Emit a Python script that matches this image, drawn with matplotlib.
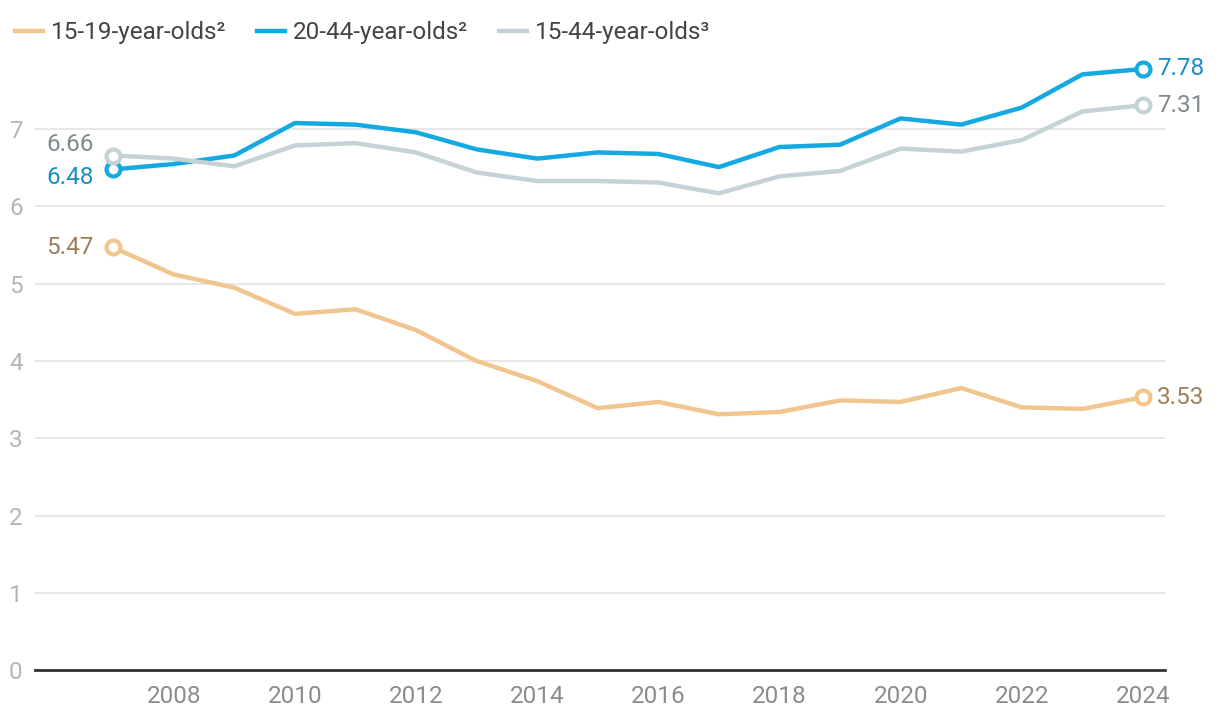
import numpy as np
import matplotlib.pyplot as plt

# data
years = list(range(2007, 2025))
teens = [5.47, 5.12, 4.95, 4.61, 4.67, 4.40, 4.00, 3.74, 3.39, 3.47, 3.31, 3.34, 3.49, 3.47, 3.65, 3.40, 3.38, 3.53]
adults = [6.48, 6.55, 6.66, 7.08, 7.06, 6.96, 6.74, 6.62, 6.70, 6.68, 6.51, 6.77, 6.80, 7.14, 7.06, 7.28, 7.71, 7.78]
total = [6.66, 6.62, 6.52, 6.79, 6.82, 6.70, 6.44, 6.33, 6.33, 6.31, 6.17, 6.39, 6.46, 6.75, 6.71, 6.86, 7.23, 7.31]

series_names = ["15-19-year-olds²", "20-44-year-olds²", "15-44-year-olds³"]
line_colors = ["#f0c68e", "#14a9e1", "#c5d3d6"]
label_colors = ["#9c7f58", "#1a8cc2", "#7f8a8e"]
# vertical nudge (points) of the start labels so 6.66 and 6.48 don't collide
start_nudge = [0, -6, 8]
x_ticks = list(range(2008, 2025, 2))
y_ticks = list(range(0, 8))

plt.rcParams['font.family'] = ['Roboto', 'DejaVu Sans']
FS = 17.5

fig = plt.figure(figsize=(12.2, 7.22), dpi=100)
ax = fig.add_axes([0.0287, 0.072, 0.926, 0.856])

all_series = [teens, adults, total]
# draw grey first so blue sits on top
order = [2, 0, 1]
lines = {}
for i in order:
    vals = all_series[i]
    ln, = ax.plot(years, vals, color=line_colors[i], lw=3.2, label=series_names[i],
                  zorder=3 + i)
    lines[i] = ln
    ax.plot([years[0], years[-1]], [vals[0], vals[-1]], 'o', ms=10, mfc='white',
            mec=line_colors[i], mew=3, zorder=6 + i)

# end value labels
for i in range(3):
    vals = all_series[i]
    ax.annotate(f"{vals[0]:.2f}", (years[0], vals[0]), xytext=(-14, start_nudge[i]),
                textcoords='offset points', ha='right', va='center',
                fontsize=FS, color=label_colors[i])
    ax.annotate(f"{vals[-1]:.2f}", (years[-1], vals[-1]), xytext=(10, 0),
                textcoords='offset points', ha='left', va='center',
                fontsize=FS, color=label_colors[i])

ax.set_xlim(2005.71, 2024.36)
ax.set_ylim(0, 8)
ax.set_xticks(x_ticks)
ax.set_yticks(y_ticks)
ax.tick_params(axis='x', length=0, labelsize=FS, labelcolor='#8c8c8c', pad=11)
ax.tick_params(axis='y', length=0, labelsize=FS, labelcolor='#b5b5b5', pad=9)

ax.grid(axis='y', color='#e5e5e5', lw=1.3, zorder=0)
ax.grid(axis='x', visible=False)
for s in ['top', 'right', 'left']:
    ax.spines[s].set_visible(False)
ax.spines['bottom'].set_color('#333333')
ax.spines['bottom'].set_linewidth(2)
ax.spines['bottom'].set_zorder(10)

leg = fig.legend([lines[0], lines[1], lines[2]], series_names, loc='upper left',
                 bbox_to_anchor=(0.0, 0.991), ncol=3, frameon=False, fontsize=FS,
                 handlelength=1.15, handletextpad=0.35, columnspacing=1.25,
                 borderaxespad=0.3, borderpad=0.3)
for t in leg.get_texts():
    t.set_color('#444444')

fig.savefig("out.png", dpi=100)
